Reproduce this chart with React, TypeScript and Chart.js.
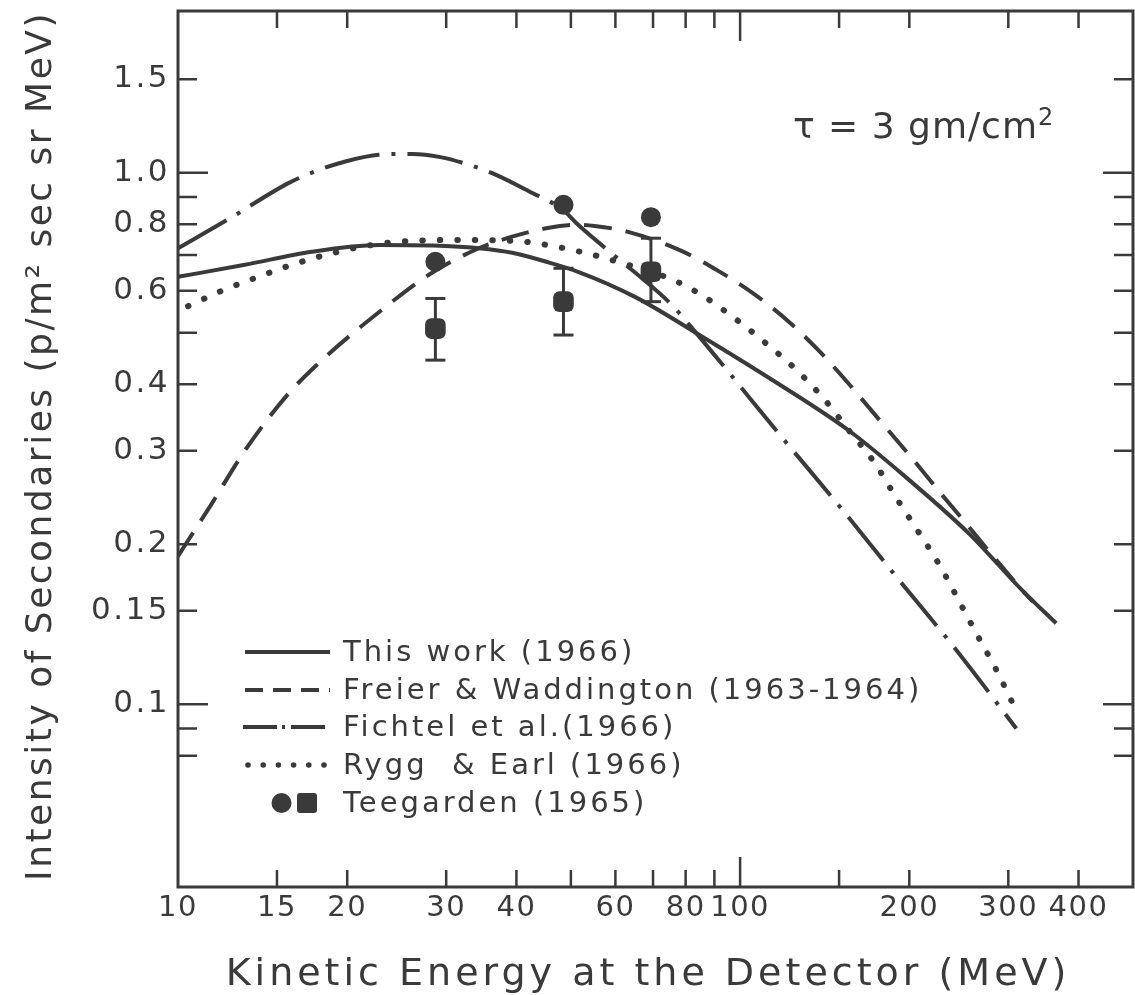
import React, { useEffect, useRef } from 'react';
import { Chart, registerables } from 'chart.js';

Chart.register(...registerables);

const INK = '#3a3a3a';
const FAMILY = '"DejaVu Sans", "Liberation Sans", sans-serif';

// ---- Data (Kinetic energy in MeV, intensity in p/m^2 sec sr MeV) ----
const thisWorkE = [10, 13.15, 17.3, 22.8, 29.9, 34.3, 39.3, 45.2, 51.5, 65.0, 85.5, 109.4, 156.3, 200, 255.9, 318.9, 365];
const thisWorkI = [0.637, 0.671, 0.710, 0.731, 0.728, 0.721, 0.707, 0.680, 0.651, 0.584, 0.492, 0.419, 0.327, 0.264, 0.209, 0.163, 0.142];

const freierE = [10, 11.47, 13.15, 15.72, 18.5, 22.8, 27.9, 34.3, 39.3, 45.2, 51.1, 55.1, 63.2, 78.8, 91.6, 106.4, 122.2, 138.2, 156.3, 179.3, 202.9, 226.3, 249, 281.8, 318.9, 332];
const freierI = [0.190, 0.238, 0.300, 0.384, 0.455, 0.547, 0.642, 0.721, 0.758, 0.786, 0.798, 0.794, 0.774, 0.712, 0.653, 0.589, 0.524, 0.462, 0.400, 0.337, 0.289, 0.251, 0.2225, 0.190, 0.163, 0.156];

const fichtelE = [10, 12.28, 15.72, 17.54, 19.85, 22.77, 26.1, 29.3, 32.95, 36.8, 42.17, 48.35, 51.5, 61.1, 66.8, 75.6, 81.0, 93.6, 115.5, 150.1, 189.4, 242.4, 310];
const fichtelI = [0.721, 0.817, 0.956, 1.006, 1.050, 1.081, 1.085, 1.070, 1.035, 0.991, 0.922, 0.852, 0.798, 0.685, 0.634, 0.564, 0.519, 0.432, 0.329, 0.236, 0.174, 0.1265, 0.090];

const ryggE = [10.42, 12.03, 13.9, 15.94, 18.28, 20.96, 25.7, 32.1, 39.9, 46.4, 54.0, 63.2, 75.6, 84.9, 97.4, 111.3, 126.4, 141.1, 156.3, 173.3, 189.4, 207, 224.8, 242.4, 263.1, 285.7, 306];
const ryggI = [0.561, 0.601, 0.637, 0.671, 0.700, 0.724, 0.744, 0.747, 0.744, 0.728, 0.703, 0.671, 0.630, 0.591, 0.534, 0.477, 0.424, 0.375, 0.327, 0.285, 0.245, 0.212, 0.185, 0.160, 0.136, 0.116, 0.100];

const teeE = [28.7, 48.5, 69.4];
const teeCircleI = [0.680, 0.870, 0.825];
const teeSquareI = [0.509, 0.572, 0.651];
const teeSquareLow = [0.444, 0.495, 0.572];
const teeSquareHigh = [0.580, 0.661, 0.753];

// ---- Axes ----
const xMin = 10;
const xMax = 500;
const yMin = 0.0453;
const yMax = 2.015;
const xLabelVals = [10, 15, 20, 30, 40, 60, 80, 100, 200, 300, 400];
const yLabelVals = [1.5, 1.0, 0.8, 0.6, 0.4, 0.3, 0.2, 0.15, 0.1];
const yLabelText = ['1.5', '1.0', '0.8', '0.6', '0.4', '0.3', '0.2', '0.15', '0.1'];
const xTickVals = [15, 20, 30, 40, 50, 60, 70, 80, 90, 100, 150, 200, 300, 400];
const xMajorVals = [100];
const yTickVals = [1.5, 1.0, 0.9, 0.8, 0.7, 0.6, 0.5, 0.4, 0.3, 0.2, 0.15, 0.1, 0.09, 0.08];
const yMajorVals = [1.0, 0.1];

const xTitle = 'Kinetic Energy at the Detector (MeV)';
const yTitle = 'Intensity of Secondaries (p/m\u00B2 sec sr MeV)';
const legendLabels = ['This work (1966)', 'Freier & Waddington (1963-1964)', 'Fichtel et al.(1966)', 'Rygg  & Earl (1966)', 'Teegarden (1965)'];
const noteText = '\u03C4 = 3 gm/cm';
const noteSup = '2';

function pts(E: number[], I: number[]) {
  return E.map((e, i) => ({ x: e, y: I[i] }));
}

const bgPlugin = {
  id: 'bg',
  beforeDraw(chart: any) {
    const { ctx, width, height } = chart;
    ctx.save();
    ctx.fillStyle = '#ffffff';
    ctx.fillRect(0, 0, width, height);
    ctx.restore();
    (ctx as any).letterSpacing = '2.5px'; // y tick labels (z = 0)
  },
  beforeDatasetsDraw(chart: any) {
    (chart.ctx as any).letterSpacing = '1.5px'; // x tick labels (z = 1)
  },
};

const framePlugin = {
  id: 'frameTicks',
  afterDatasetsDraw(chart: any) {
    const { ctx, chartArea: a, scales } = chart;
    const xs = scales.x;
    const ys = scales.y;
    ctx.save();
    ctx.strokeStyle = INK;
    ctx.fillStyle = INK;
    ctx.lineCap = 'butt';
    ctx.lineWidth = 3;
    ctx.strokeRect(a.left, a.top, a.right - a.left, a.bottom - a.top);

    ctx.lineWidth = 2.5;
    ctx.beginPath();
    xTickVals.forEach((v) => {
      const px = xs.getPixelForValue(v);
      const len = xMajorVals.includes(v) ? 30 : 17;
      ctx.moveTo(px, a.bottom);
      ctx.lineTo(px, a.bottom - len);
      ctx.moveTo(px, a.top);
      ctx.lineTo(px, a.top + len);
    });
    yTickVals.forEach((v) => {
      const py = ys.getPixelForValue(v);
      const len = yMajorVals.includes(v) ? 30 : 19;
      ctx.moveTo(a.left, py);
      ctx.lineTo(a.left + len, py);
      ctx.moveTo(a.right, py);
      ctx.lineTo(a.right - len, py);
    });
    ctx.stroke();

    // legend
    const rows = [652, 690, 727, 765, 803];
    const x0 = 245;
    const x1 = 330;
    ctx.lineWidth = 4;
    ctx.beginPath();
    ctx.moveTo(x0, rows[0]);
    ctx.lineTo(x1, rows[0]);
    ctx.stroke();
    ctx.setLineDash([18, 10]);
    ctx.beginPath();
    ctx.moveTo(x0, rows[1]);
    ctx.lineTo(x1, rows[1]);
    ctx.stroke();
    ctx.setLineDash([34, 5, 3, 6]);
    ctx.beginPath();
    ctx.moveTo(x0 - 2, rows[2]);
    ctx.lineTo(x1, rows[2]);
    ctx.stroke();
    ctx.setLineDash([]);
    for (let i = 0; i < 6; i++) {
      ctx.beginPath();
      ctx.arc(248 + i * 15.2, rows[3], 2.8, 0, Math.PI * 2);
      ctx.fill();
    }
    ctx.beginPath();
    ctx.arc(281.5, rows[4], 10, 0, Math.PI * 2);
    ctx.fill();
    ctx.beginPath();
    (ctx as any).roundRect(297, rows[4] - 10, 20, 20, 3);
    ctx.fill();

    (ctx as any).letterSpacing = '3px';
    ctx.font = `29px ${FAMILY}`;
    ctx.textBaseline = 'middle';
    ctx.textAlign = 'left';
    legendLabels.forEach((t, i) => ctx.fillText(t, 343, rows[i] + 1));

    // annotation
    (ctx as any).letterSpacing = '1px';
    ctx.textBaseline = 'alphabetic';
    ctx.font = `36px ${FAMILY}`;
    ctx.fillText(noteText, 793, 138);
    const w = ctx.measureText(noteText).width;
    ctx.font = `24px ${FAMILY}`;
    ctx.fillText(noteSup, 793 + w, 125);

    // axis titles
    ctx.textAlign = 'center';
    (ctx as any).letterSpacing = '4px';
    ctx.font = `38px ${FAMILY}`;
    ctx.fillText(xTitle, 648, 985);

    ctx.save();
    ctx.translate(51, 446);
    ctx.rotate(-Math.PI / 2);
    (ctx as any).letterSpacing = '2.5px';
    ctx.font = `36px ${FAMILY}`;
    ctx.fillText(yTitle, 0, 0);
    ctx.restore();

    ctx.restore();
  },
};

export default function App() {
  const ref = useRef<HTMLCanvasElement | null>(null);

  useEffect(() => {
    if (!ref.current) return;
    const lineCommon = {
      borderColor: INK,
      backgroundColor: INK,
      pointRadius: 0,
      fill: false,
      cubicInterpolationMode: 'monotone' as const,
      showLine: true,
    };
    const zeroPad = (s: any) => {
      s.paddingTop = 0;
      s.paddingBottom = 0;
      s.paddingLeft = 0;
      s.paddingRight = 0;
    };
    const chart = new Chart(ref.current, {
      type: 'scatter',
      data: {
        datasets: [
          { ...lineCommon, label: 'This work (1966)', data: pts(thisWorkE, thisWorkI), borderWidth: 4 },
          { ...lineCommon, label: 'Freier & Waddington (1963-1964)', data: pts(freierE, freierI), borderWidth: 4, borderDash: [28, 14] },
          { ...lineCommon, label: 'Fichtel et al. (1966)', data: pts(fichtelE, fichtelI), borderWidth: 4, borderDash: [56, 12, 4, 12] },
          { ...lineCommon, label: 'Rygg & Earl (1966)', data: pts(ryggE, ryggI), borderWidth: 6, borderDash: [0.5, 17], borderCapStyle: 'round' },
          {
            label: 'Teegarden circles',
            data: pts(teeE, teeCircleI),
            showLine: false,
            pointStyle: 'circle',
            pointRadius: 10,
            pointBackgroundColor: INK,
            pointBorderColor: INK,
            pointBorderWidth: 0,
          },
          ...teeE.map((e, i) => ({
            label: 'Teegarden error ' + i,
            data: [
              { x: e, y: teeSquareLow[i] },
              { x: e, y: teeSquareHigh[i] },
            ],
            showLine: true,
            borderColor: INK,
            borderWidth: 3,
            pointStyle: 'line' as const,
            pointRadius: 10,
            pointBorderColor: INK,
            pointBorderWidth: 3,
          })),
          {
            label: 'Teegarden squares',
            data: pts(teeE, teeSquareI),
            showLine: false,
            pointStyle: 'rectRounded',
            pointRadius: 12,
            pointBackgroundColor: INK,
            pointBorderColor: INK,
            pointBorderWidth: 0,
          },
        ],
      },
      options: {
        animation: false,
        responsive: false,
        devicePixelRatio: 1,
        layout: { autoPadding: false, padding: { top: 11, right: 2, left: 0, bottom: 0 } },
        plugins: { legend: { display: false }, tooltip: { enabled: false } },
        scales: {
          x: {
            type: 'logarithmic',
            min: xMin,
            max: xMax,
            offset: false,
            grid: { display: false, drawTicks: false },
            border: { display: false },
            afterBuildTicks: (s: any) => {
              s.ticks = xLabelVals.map((v) => ({ value: v }));
            },
            afterFit: (s: any) => {
              s.height = 108;
              zeroPad(s);
            },
            ticks: {
              autoSkip: false,
              maxRotation: 0,
              padding: 4,
              z: 1,
              color: INK,
              font: { family: FAMILY, size: 29 },
              callback: (_v: any, i: number) => String(xLabelVals[i]),
            },
            title: { display: false },
          },
          y: {
            type: 'logarithmic',
            min: yMin,
            max: yMax,
            grid: { display: false, drawTicks: false },
            border: { display: false },
            afterBuildTicks: (s: any) => {
              s.ticks = yLabelVals.map((v) => ({ value: v }));
            },
            afterFit: (s: any) => {
              s.width = 178;
              zeroPad(s);
            },
            ticks: {
              autoSkip: false,
              padding: 8,
              z: 0,
              color: INK,
              font: { family: FAMILY, size: 31 },
              callback: (_v: any, i: number) => yLabelText[i],
            },
            title: { display: false },
          },
        },
      },
      plugins: [bgPlugin, framePlugin],
    } as any);
    return () => chart.destroy();
  }, []);

  return (
    <div style={{ position: 'absolute', left: 0, top: 0, width: 1135, height: 995 }}>
      <canvas ref={ref} width={1135} height={995} style={{ display: 'block', width: 1135, height: 995 }} />
    </div>
  );
}
